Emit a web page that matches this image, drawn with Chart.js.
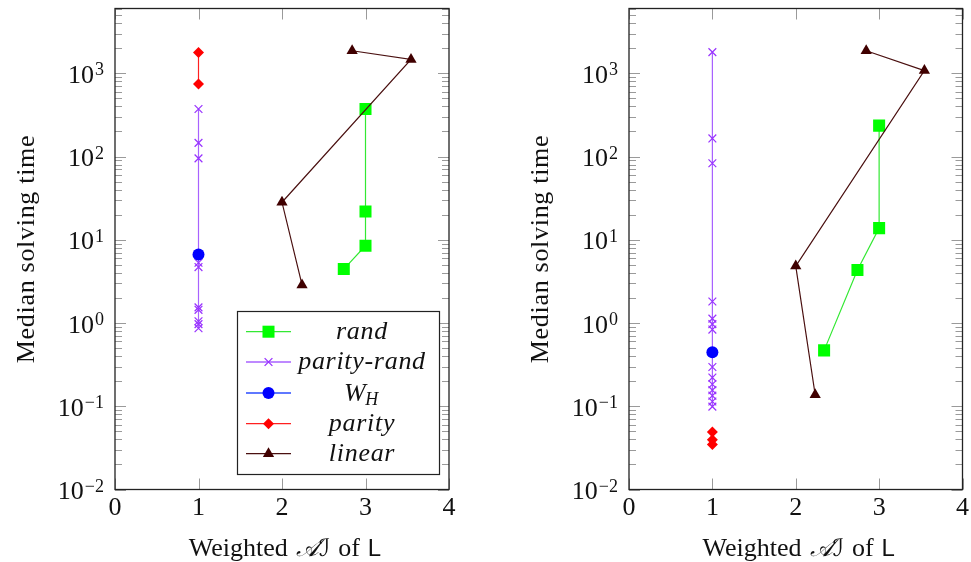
<!DOCTYPE html>
<html><head><meta charset="utf-8">
<script src="https://cdn.jsdelivr.net/npm/chart.js@4"></script>
<style>
html,body{margin:0;padding:0;background:#fff;overflow:hidden;width:971px;height:562px}
.c{position:absolute;top:0;height:562px}
.pre{position:absolute;left:-1000px;top:0;font-family:"Liberation Serif";}
</style></head><body>
<div class="pre">Median <i>parity</i> <span style="font-family:'Liberation Sans'">L</span></div>
<div class="c" style="left:0;width:470px"><canvas id="a" width="470" height="562"></canvas></div>
<div class="c" style="left:514px;width:457px"><canvas id="b" width="457" height="562"></canvas></div>
<script>
const xTicks=[0,1,2,3,4];
const yTickExps=[-2,-1,0,1,2,3];
const yMin=0.01, yMax=6000;
const legendLabels=['rand','parity-rand','W','parity','linear'];
const yTitle='Median solving time';

// Left panel
const leftRandX=[2.74,3,3,3];
const leftRandY=[4.45,8.5,21.9,372];
const leftParityRandX=[1,1,1,1,1,1,1,1,1,1];
const leftParityRandY=[372,146,95,5.3,4.7,1.54,1.44,1.05,0.97,0.865];
const leftWHX=[1];
const leftWHY=[6.64];
const leftParityX=[1,1];
const leftParityY=[1780,745];
const leftLinearX=[2.84,3.545,2.0,2.24];
const leftLinearY=[1866,1468,28.2,2.87];

// Right panel
const rightRandX=[2.34,2.74,3,3];
const rightRandY=[0.469,4.33,13.8,235];
const rightParityRandX=[1,1,1,1,1,1,1,1,1,1,1,1,1,1];
const rightParityRandY=[1795,165,83,1.81,1.13,0.97,0.834,0.296,0.221,0.184,0.156,0.134,0.114,0.099];
const rightWHX=[1];
const rightWHY=[0.444];
const rightParityX=[1,1,1];
const rightParityY=[0.0489,0.0397,0.0346];
const rightLinearX=[2.845,3.543,2.0,2.233];
const rightLinearY=[1866,1077,4.83,0.1375];

const styles=[
 {color:'#00ff00',line:'#33e833',pointStyle:'rect',radius:8.5,bw:0},
 {color:'#9933ff',line:'#a862ff',pointStyle:'crossRot',radius:5.5,bw:1.2},
 {color:'#0000ff',line:'#2a4bff',pointStyle:'circle',radius:6,bw:0},
 {color:'#ff0000',line:'#ff2020',pointStyle:'rectRot',radius:5.5,bw:0},
 {color:'#400000',line:'#4a1010',pointStyle:'triangle',radius:6.5,bw:0}
];

function pts(xs,ys){return xs.map((x,i)=>({x:x,y:ys[i]}));}
function makeDatasets(series){
  return series.map((s,i)=>{
    const st=styles[i];
    return {label:legendLabels[i],data:pts(s[0],s[1]),showLine:true,borderColor:st.line,borderWidth:1.2,
      pointStyle:st.pointStyle,pointRadius:st.radius,pointBackgroundColor:st.color,pointBorderColor:st.color,
      pointBorderWidth:st.bw,order:5-i,tension:0,fill:false};
  });
}

const SERIF='"Liberation Serif", "DejaVu Serif", serif';
function line(ctx,x1,y1,x2,y2){ctx.beginPath();ctx.moveTo(x1,y1);ctx.lineTo(x2,y2);ctx.stroke();}

const axesPlugin={id:'axesDraw',afterDraw(chart){
  const ctx=chart.ctx,a=chart.chartArea,x=chart.scales.x,y=chart.scales.y;
  ctx.save();
  ctx.strokeStyle='#9a9a9a';ctx.lineWidth=1;
  for(const e of yTickExps){
    for(let m=1;m<10;m++){
      const v=m*Math.pow(10,e); if(v>yMax) break;
      const py=Math.round(y.getPixelForValue(v))+0.5;
      const len=m===1?11:7;
      line(ctx,a.left,py,a.left+len,py);line(ctx,a.right,py,a.right-len,py);
    }
  }
  for(const t of xTicks){
    const px=Math.round(x.getPixelForValue(t))+0.5;
    line(ctx,px,a.bottom,px,a.bottom-11);line(ctx,px,a.top,px,a.top+11);
  }
  ctx.strokeStyle='#222';ctx.lineWidth=1.3;
  ctx.strokeRect(a.left,a.top,a.right-a.left,a.bottom-a.top);
  // y tick labels
  ctx.fillStyle='#111';
  for(const e of yTickExps){
    const py=y.getPixelForValue(Math.pow(10,e));
    const base='10', exp=(e<0?'\u2212':'')+Math.abs(e);
    ctx.font='26px '+SERIF; const wb=ctx.measureText(base).width;
    ctx.font='18px '+SERIF; const we=ctx.measureText(exp).width;
    const xr=a.left-11; const x0=xr-wb-we-1;
    ctx.textBaseline='alphabetic';ctx.textAlign='left';
    ctx.font='26px '+SERIF; ctx.fillText(base,x0,py+9.5);
    ctx.font='18px '+SERIF; ctx.fillText(exp,x0+wb+1,py+2);
  }
  // x tick labels
  ctx.font='26px '+SERIF;ctx.textAlign='center';ctx.textBaseline='alphabetic';
  for(const t of xTicks){ctx.fillText(String(t),x.getPixelForValue(t),515);}
  // y title
  ctx.save();
  ctx.translate(a.left-88,(a.top+a.bottom)/2);
  ctx.rotate(-Math.PI/2);
  ctx.font='26px '+SERIF;ctx.letterSpacing='0.7px';ctx.textAlign='center';ctx.textBaseline='middle';
  ctx.fillText(yTitle,0,0);
  ctx.restore();
  // x title
  ctx.save();
  ctx.letterSpacing='0px';
  const parts=[['Weighted','26px "Liberation Serif"',0],['\uD835\uDC9C\u2110','italic 24px "DejaVu Serif", "DejaVu Sans", serif',8],['of','26px "Liberation Serif"',8],['L','24px "Liberation Sans", "DejaVu Sans", sans-serif',8]];
  ctx.textAlign='left';ctx.textBaseline='alphabetic';
  let tw=0; for(const p of parts){ctx.font=p[1];tw+=p[2]+ctx.measureText(p[0]).width;}
  let cx=(a.left+a.right)/2-tw/2+3;
  for(const p of parts){ctx.font=p[1];cx+=p[2];ctx.fillText(p[0],cx,556);cx+=ctx.measureText(p[0]).width;}
  ctx.restore();
  ctx.restore();
}};

const legendPlugin={id:'legendBox',afterDraw(chart){
  const ctx=chart.ctx;
  ctx.save();
  const bx=237,by=311,bw=202,bh=163;
  ctx.fillStyle='#fff';ctx.fillRect(bx,by,bw,bh);
  ctx.strokeStyle='#222';ctx.lineWidth=1.2;ctx.strokeRect(bx+0.5,by+0.5,bw,bh);
  const rowY=[331.7,362,393,423.7,453.7];
  legendLabels.forEach((lab,i)=>{
    const st=styles[i], yy=rowY[i];
    ctx.strokeStyle=st.line;ctx.lineWidth=1.3;line(ctx,246,yy,291,yy);
    ctx.fillStyle=st.color;ctx.strokeStyle=st.color;
    Chart.helpers.drawPoint(ctx,{pointStyle:st.pointStyle,radius:st.radius,rotation:0,borderWidth:st.bw},268.5,yy);
    ctx.fillStyle='#111';ctx.textBaseline='alphabetic';ctx.letterSpacing='0.7px';
    if(lab==='W'){
      ctx.font='italic 26px '+SERIF;const w1=ctx.measureText('W').width;
      ctx.font='italic 18px '+SERIF;const w2=ctx.measureText('H').width;
      const x0=362-(w1+w2)/2;
      ctx.font='italic 26px '+SERIF;ctx.textAlign='left';ctx.fillText('W',x0,yy+8);
      ctx.font='italic 18px '+SERIF;ctx.fillText('H',x0+w1-1,yy+12);
    } else {
      ctx.font='italic 26px '+SERIF;ctx.textAlign='center';ctx.fillText(lab,362,yy+7);
    }
  });
  ctx.restore();
}};

function make(id,series,pad,legend){
  return new Chart(document.getElementById(id),{
    type:'scatter',
    data:{datasets:makeDatasets(series)},
    options:{responsive:false,animation:false,devicePixelRatio:1,
      layout:{padding:pad},
      scales:{x:{type:'linear',min:0,max:4,display:false},
              y:{type:'logarithmic',min:yMin,max:yMax,display:false}},
      plugins:{legend:{display:false},tooltip:{enabled:false}}},
    plugins:legend?[axesPlugin,legendPlugin]:[axesPlugin]
  });
}
function build(){
  make('a',[[leftRandX,leftRandY],[leftParityRandX,leftParityRandY],[leftWHX,leftWHY],[leftParityX,leftParityY],[leftLinearX,leftLinearY]],
    {left:115,right:21,top:5,bottom:72.5},true);
  make('b',[[rightRandX,rightRandY],[rightParityRandX,rightParityRandY],[rightWHX,rightWHY],[rightParityX,rightParityY],[rightLinearX,rightLinearY]],
    {left:115,right:7,top:5,bottom:72.5},false);
}
const loads=['26px "Liberation Serif"','italic 26px "Liberation Serif"','24px "Liberation Sans"','italic 24px "DejaVu Serif"'].map(f=>document.fonts.load(f).catch(()=>null));
Promise.all(loads).then(build,build);
</script>
</body></html>
